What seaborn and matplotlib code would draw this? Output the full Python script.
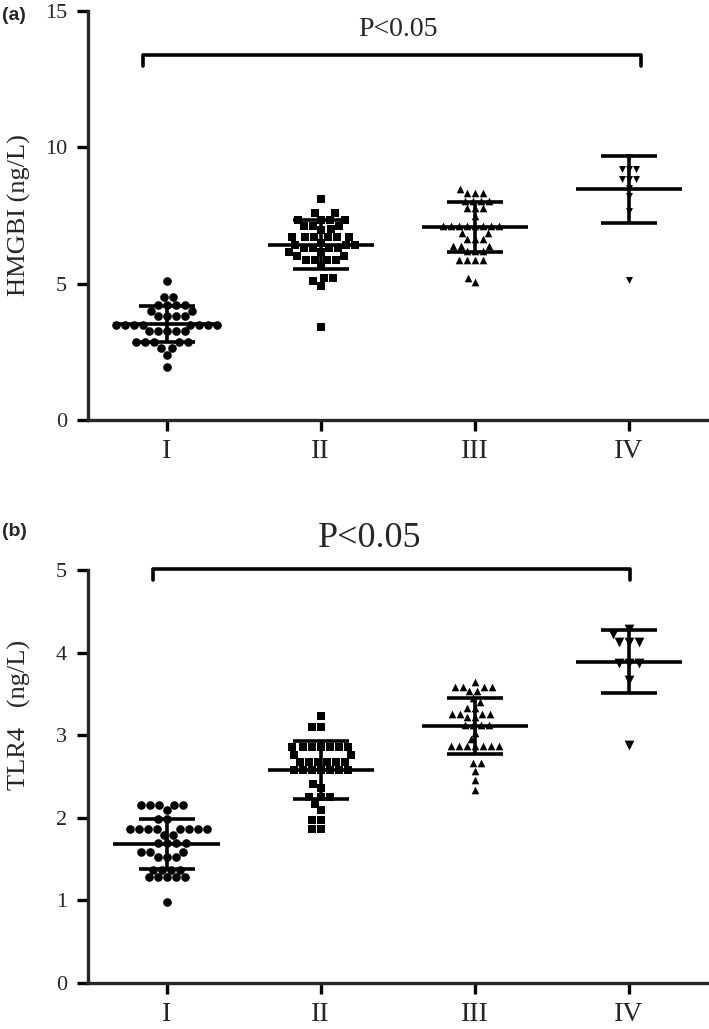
import numpy as np
import matplotlib
matplotlib.use('Agg')
import matplotlib.pyplot as plt
import seaborn as sns

# groups / markers
groups = ['I', 'II', 'III', 'IV']
markers = ['o', 's', '^', 'v']

# panel (a) HMGBI values (rows of the dot plot)
hmgb_I = [5.1, 4.5, 4.5, 4.2, 4.2, 4.2, 4.2, 4.0, 4.0, 3.8, 3.8, 3.8, 3.8,
          3.5, 3.5, 3.5, 3.5, 3.5, 3.5, 3.5, 3.5, 3.25, 3.25, 3.25, 3.25, 3.25,
          2.85, 2.85, 2.85, 2.85, 2.85, 2.65, 2.65, 2.4, 1.95]
hmgb_II = [8.1, 7.6, 7.6, 7.35, 7.35, 7.35, 7.35, 7.1, 7.1, 7.1, 7.0, 6.95,
           6.7, 6.7, 6.7, 6.7, 6.7, 6.7, 6.5, 6.4, 6.4, 6.4, 6.3, 6.3, 6.3,
           6.3, 6.15, 6.15, 6.0, 6.0, 5.88, 5.88, 5.88, 5.88, 5.64, 5.2, 5.2,
           5.08, 4.9, 3.4]
hmgb_III = [8.46, 8.33, 8.33, 8.33, 8.05, 8.05, 8.05, 8.05, 7.78, 7.78, 7.78,
            7.47, 7.13, 7.13, 7.13, 7.13, 7.13, 7.13, 7.13, 7.13, 6.86, 6.86,
            6.64, 6.64, 6.64, 6.37, 6.37, 6.37, 6.19, 6.19, 6.19, 5.86, 5.86,
            5.86, 5.86, 5.2, 5.05]
hmgb_IV = [9.65, 9.2, 9.2, 9.2, 8.85, 8.85, 8.85, 8.5, 8.2, 7.65, 5.15]
hmgb_mean = [3.52, 6.42, 7.07, 8.46]
hmgb_sd = [0.67, 0.9, 0.92, 1.23]

# panel (b) TLR4 values
tlr_I = [2.15, 2.15, 2.15, 2.15, 2.15, 2.09, 1.98, 1.98, 1.86, 1.86, 1.86,
         1.86, 1.86, 1.86, 1.86, 1.86, 1.79, 1.79, 1.69, 1.69, 1.69, 1.69,
         1.59, 1.59, 1.59, 1.53, 1.53, 1.53, 1.37, 1.37, 1.37, 1.37, 1.28,
         1.28, 1.28, 1.28, 1.28, 0.98]
tlr_II = [3.23, 3.1, 3.1, 2.86, 2.86, 2.86, 2.86, 2.86, 2.86, 2.86, 2.76, 2.76,
          2.68, 2.68, 2.68, 2.68, 2.68, 2.68, 2.58, 2.58, 2.58, 2.58, 2.58,
          2.58, 2.58, 2.41, 2.36, 2.25, 2.25, 2.25, 2.17, 2.09, 1.97, 1.97,
          1.86, 1.86]
tlr_III = [3.65, 3.58, 3.58, 3.58, 3.58, 3.53, 3.53, 3.45, 3.4, 3.33, 3.33,
           3.26, 3.26, 3.26, 3.26, 3.22, 3.22, 3.12, 3.12, 3.12, 3.12, 3.03,
           2.95, 2.87, 2.87, 2.87, 2.87, 2.87, 2.87, 2.87, 2.66, 2.66, 2.57,
           2.46, 2.34]
tlr_IV = [4.29, 4.23, 4.13, 4.13, 4.13, 3.87, 3.87, 3.87, 3.67, 2.88]
tlr_mean = [1.68, 2.58, 3.11, 3.89]
tlr_sd = [0.305, 0.355, 0.34, 0.38]

sns.set_style('ticks')
plt.rcParams['font.family'] = ['Liberation Serif', 'DejaVu Serif']
plt.rcParams['axes.linewidth'] = 2.4


def draw_panel(ax, values, means, sds, sizes):
    """Scatter dot plot with mean and SD bars"""
    for i, vals in enumerate(values):
        sns.swarmplot(x=[groups[i]] * len(vals), y=vals, order=groups, ax=ax,
                      color='black', marker=markers[i], size=sizes[i],
                      linewidth=0)
    pos = np.arange(len(groups))
    ax.hlines(means, pos - 0.345, pos + 0.345, color='black', lw=2.6)
    ax.errorbar(pos, means, yerr=sds, fmt='none', ecolor='black',
                elinewidth=2.6, capsize=20, capthick=2.6)
    ax.set_xlim(-0.51, 3.52)
    sns.despine(ax=ax)
    ax.tick_params(axis='both', width=2.4, length=8, color='black')
    ax.tick_params(axis='y', labelsize=16, pad=7)
    ax.tick_params(axis='x', labelsize=20, pad=6)
    ax.set_xlabel('')


def bracket(ax, x0, x1, y_top, y_low, text, tx, ty, fs):
    ax.plot([x0, x0, x1, x1], [y_low, y_top, y_top, y_low], color='black',
            lw=2.6, clip_on=False, solid_capstyle='round')
    ax.text(tx, ty, text, ha='center', va='baseline', fontsize=fs)


fig = plt.figure(figsize=(7.09, 10.29), dpi=100)
ax_a = fig.add_axes([88 / 709, 1 - 420 / 1029, 621 / 709, 409 / 1029])
ax_b = fig.add_axes([88 / 709, 1 - 983 / 1029, 621 / 709, 413 / 1029])

# (a)
draw_panel(ax_a, [hmgb_I, hmgb_II, hmgb_III, hmgb_IV], hmgb_mean, hmgb_sd,
           [6.2, 6.2, 5.5, 5])
ax_a.set_ylim(0, 15)
ax_a.set_yticks([0, 5, 10, 15])
ax_a.set_ylabel('HMGBI (ng/L)', fontsize=19)
ax_a.yaxis.set_label_coords(-0.092, 0.5)
bracket(ax_a, -0.155, 3.08, 13.4, 13.0, 'P<0.05', 1.5, 14.08, 20)

# (b)
draw_panel(ax_b, [tlr_I, tlr_II, tlr_III, tlr_IV], tlr_mean, tlr_sd,
           [6.2, 6.2, 5.5, 7])
ax_b.set_ylim(0, 5)
ax_b.set_yticks([0, 1, 2, 3, 4, 5])
ax_b.set_ylabel('TLR4   (ng/L)', fontsize=19)
ax_b.yaxis.set_label_coords(-0.092, 0.65)
bracket(ax_b, -0.09, 3.01, 5.01, 4.88, 'P<0.05', 1.32, 5.28, 26)

fig.text(0.003, 1 - 20 / 1029, '(a)', fontsize=14, fontweight='bold',
         family=['Liberation Sans', 'DejaVu Sans'])
fig.text(0.003, 1 - 536 / 1029, '(b)', fontsize=14, fontweight='bold',
         family=['Liberation Sans', 'DejaVu Sans'])

fig.savefig('out.png', dpi=100)
